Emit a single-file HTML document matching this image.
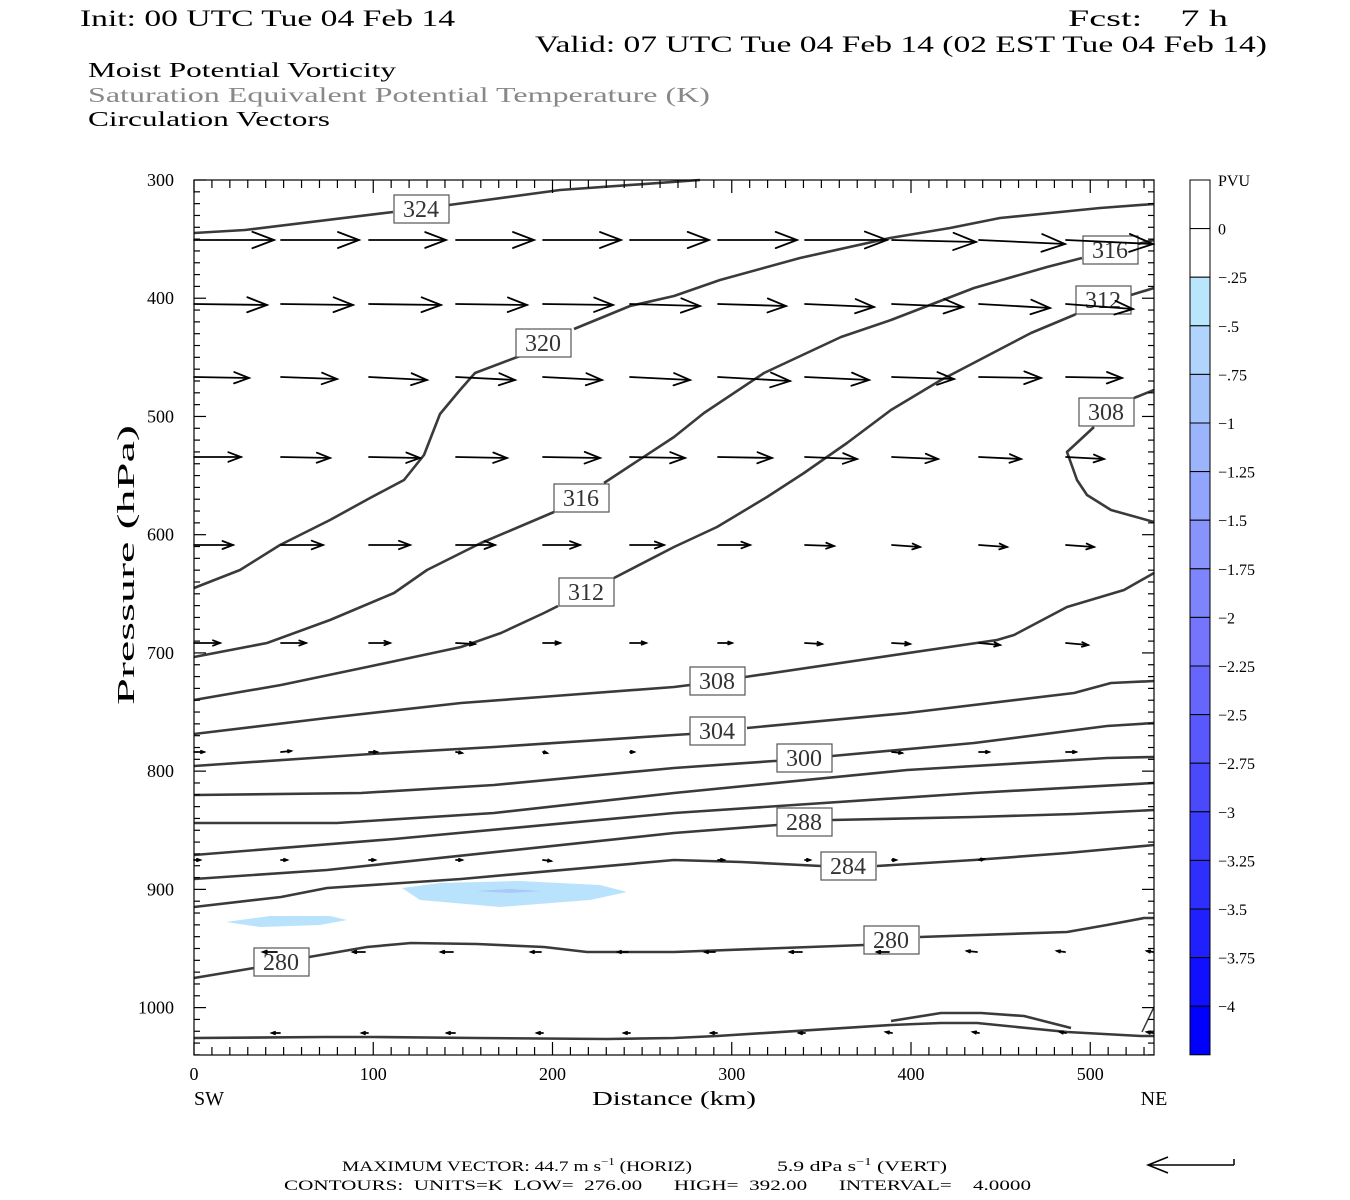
<!DOCTYPE html>
<html><head><meta charset="utf-8"><style>
html,body{margin:0;padding:0;background:#fff;}
svg{display:block;}
text{font-family:"Liberation Serif",serif;}
</style></head><body>
<svg id="s" width="1350" height="1200" viewBox="0 0 1350 1200" xmlns="http://www.w3.org/2000/svg">
<rect width="1350" height="1200" fill="#fff"/>
<g font-family="Liberation Mono, monospace" fill="#000">
<text x="80" y="26" font-size="23" textLength="375" lengthAdjust="spacingAndGlyphs">Init: 00 UTC Tue 04 Feb 14</text>
<text x="1068" y="26" font-size="23" textLength="160" lengthAdjust="spacingAndGlyphs" xml:space="preserve">Fcst:    7 h</text>
<text x="535" y="52" font-size="23" textLength="732" lengthAdjust="spacingAndGlyphs">Valid: 07 UTC Tue 04 Feb 14 (02 EST Tue 04 Feb 14)</text>
<text x="88" y="77" font-size="21" textLength="308" lengthAdjust="spacingAndGlyphs">Moist Potential Vorticity</text>
<text x="88" y="102" font-size="21" fill="#888" textLength="622" lengthAdjust="spacingAndGlyphs">Saturation Equivalent Potential Temperature (K)</text>
<text x="88" y="126" font-size="21" textLength="242" lengthAdjust="spacingAndGlyphs">Circulation Vectors</text>
</g>
<polygon points="402,888 440,883 520,881 600,885 627,892 590,900 500,907 420,900" fill="#b9e3fc"/>
<polygon points="476,891 510,889 541,891 510,893" fill="#aac8f8"/>
<polygon points="226,922 270,916 330,916 347,920 320,925 260,927" fill="#b9e3fc"/>
<g id="cont" fill="none" stroke="#3a3a3a" stroke-width="2.6" stroke-linejoin="round">
<polyline points="194,233 245,230 393,212"/><polyline points="449,205 560,190 700,180"/>
<polyline points="194,588 240,570 280,545 330,520 370,498 404,480 424,455 440,414 460,390 475,373 520,356"/>
<polyline points="574,329 630,306 674,296 720,280 800,258 890,238 950,228 1000,218 1100,208 1154,204"/>
<polyline points="194,657 267,643 330,620 394,593 427,570 481,543 554,512"/>
<polyline points="604,483 674,437 704,413 764,373 841,337 891,320 974,288 1047,267 1082,258"/>
<polyline points="1138,244 1154,240"/>
<polyline points="194,700 281,685 367,667 461,647 501,633 544,613 558,606"/>
<polyline points="614,578 674,547 717,527 767,497 804,473 847,443 891,410 941,380 1031,333 1074,315 1076,314"/>
<polyline points="1131,295 1154,288"/>
<polyline points="1134,398 1154,390"/><polyline points="1094,427 1067,452 1077,480 1087,495 1111,510 1154,522"/>
<polyline points="194,734 327,718 461,703 541,697 674,687 690,685"/><polyline points="745,677 997,640 1014,635 1067,607 1124,590 1154,573"/>
<polyline points="194,766 371,754 494,747 674,735 690,734"/><polyline points="747,728 907,713 1074,693 1111,683 1154,681"/>
<polyline points="194,795 361,793 494,785 674,768 774,761 777,761"/><polyline points="832,756 974,743 1107,726 1154,723"/>
<polyline points="194,823 337,823 494,813 674,793 907,770 1107,758 1154,757"/>
<polyline points="194,855 394,839 674,813 974,793 1154,783"/>
<polyline points="194,879 327,870 674,833 777,825"/><polyline points="832,820 974,817 1074,814 1154,810"/>
<polyline points="194,907 281,897 327,888 461,879 674,860 741,862 821,866"/><polyline points="877,866 974,860 1067,853 1154,845"/>
<polyline points="194,978 254,968"/><polyline points="309,957 367,947 411,943 477,944 544,947 587,952 674,952 864,945"/><polyline points="920,937 1067,932 1107,925 1144,918 1154,918"/>
<polyline points="194,1038 324,1037 371,1037 477,1038 607,1039 674,1038 717,1036 891,1025 941,1023 977,1023 1067,1032 1141,1036 1154,1036"/>
<polyline points="891,1021 941,1013 981,1013 1024,1016 1071,1028"/>
<polyline points="1142,1032 1154,1007" stroke-width="1.5"/>
</g>
<g id="lbl" font-family="Liberation Serif, serif" font-size="24" fill="#333"></g>
<g id="arr" stroke="#000" stroke-width="1.8" fill="none" stroke-linecap="round"></g>
<g id="ticks" stroke="#000" stroke-width="1.2"></g>
<rect x="194" y="180" width="960" height="875" fill="none" stroke="#000" stroke-width="1.2"/>
<g id="cbar"></g>
<g font-family="Liberation Serif, serif" font-size="18" fill="#000" id="axl"></g>
<text x="674" y="1105" font-size="20" text-anchor="middle" font-family="Liberation Serif, serif" textLength="164" lengthAdjust="spacingAndGlyphs">Distance (km)</text>
<text x="209" y="1105" font-size="20" text-anchor="middle">SW</text>
<text x="1154" y="1105" font-size="20" text-anchor="middle">NE</text>
<text transform="translate(134,565) rotate(-90)" font-size="24" text-anchor="middle" textLength="280" lengthAdjust="spacingAndGlyphs">Pressure (hPa)</text>
<g font-family="Liberation Serif, serif" font-size="15" fill="#000">
<text x="342" y="1171" textLength="350" lengthAdjust="spacingAndGlyphs">MAXIMUM VECTOR:  44.7 m s<tspan dy="-6" font-size="10">−1</tspan><tspan dy="6"> (HORIZ)</tspan></text>
<text x="777" y="1171" textLength="170" lengthAdjust="spacingAndGlyphs">5.9 dPa s<tspan dy="-6" font-size="10">−1</tspan><tspan dy="6"> (VERT)</tspan></text>
<text x="284" y="1190" textLength="747" lengthAdjust="spacingAndGlyphs" xml:space="preserve">CONTOURS:  UNITS=K  LOW=  276.00      HIGH=  392.00      INTERVAL=    4.0000</text>
</g>
<g stroke="#000" stroke-width="1.5" fill="none"><polyline points="1234,1165 1148,1165"/><polyline points="1168,1157 1148,1165 1168,1173"/><line x1="1234" y1="1165" x2="1234" y2="1159"/></g>
</svg>
<script>
var NS="http://www.w3.org/2000/svg";
function el(p,t,a,txt){var e=document.createElementNS(NS,t);for(var k in a)e.setAttribute(k,a[k]);if(txt!=null)e.textContent=txt;document.getElementById(p).appendChild(e);return e;}
[[421,209,"324"],[543,343,"320"],[581,498,"316"],[1110,250,"316"],[586,592,"312"],[1103,300,"312"],[1106,412,"308"],[717,681,"308"],[717,731,"304"],[804,758,"300"],[804,822,"288"],[848,866,"284"],[891,940,"280"],[281,962,"280"]].forEach(function(l){
el("lbl","rect",{x:l[0]-27,y:l[1]-14,width:55,height:28,fill:"#fff",stroke:"#555","stroke-width":1.2});
el("lbl","text",{x:l[0],y:l[1]+8,"text-anchor":"middle"},l[2]);});
var cols=[194,281,369,456,543,630,718,805,892,979,1066];
var rows=[
[240,[80,78,77,78,78,79,79,82,84,86,87],[0,0,0,0,0,0,0,0,2,4,4]],
[304,[73,72,72,71,70,70,68,69,71,71,67],[1,1,1,1,1,2,2,3,3,4,5]],
[377,[55,56,58,59,59,60,72,64,62,62,56],[1,2,3,3,3,3,4,3,2,1,1]],
[457,[47,49,51,51,57,55,54,52,46,42,38],[0,1,1,1,1,1,1,2,2,2,2]],
[545,[39,42,41,39,37,34,32,29,28,28,28],[0,0,0,0,0,0,0,1,2,2,2]],
[643,[26,25,21,19,17,16,14,17,18,21,22],[0,0,0,1,0,0,0,1,1,2,2]],
[752,[10,10,8,6,4,4,0,0,10,10,10],[0,-1,0,1,1,0,0,0,1,0,0]],
[860,[6,6,6,6,8,0,6,5,4,5,0],[0,0,0,0,1,0,0,0,0,-1,0]],
[952,[-14,-12,-12,-10,-10,-10,-12,-12,-10,-8,-6],[0,0,0,0,0,0,0,0,-1,-1,-1]],
[1033,[-8,-6,-8,-6,-6,-6,-6,-6,-6,-6,-6],[0,0,0,0,0,0,0,-1,-1,-1,-1]]];
rows.forEach(function(r){cols.forEach(function(c,i){var L=r[1][i];if(!L)return;var x=c;if(L<0)x=c+90+L/2;var y=r[0],x1=x+L,y1=y+r[2][i];
var dx=x1-x,dy=y1-y,len=Math.sqrt(dx*dx+dy*dy),ux=dx/len,uy=dy/len,h=Math.max(3,len*0.27),w=h*0.38;
el("arr","line",{x1:x,y1:y,x2:x1,y2:y1});
el("arr","polyline",{points:(x1-ux*h-uy*w)+","+(y1-uy*h+ux*w)+" "+x1+","+y1+" "+(x1-ux*h+uy*w)+","+(y1-uy*h-ux*w)});});});
function py(p){return 180+(p-300)*1.1823;}
for(var p=300;p<=1040;p+=10){var y=py(p),m=(p%100==0)?12:6;el("ticks","line",{x1:194,y1:y,x2:194+m,y2:y});el("ticks","line",{x1:1154,y1:y,x2:1154-m,y2:y});
if(p%100==0)el("axl","text",{x:174,y:y+6,"text-anchor":"end"},String(p));}
for(var d=0;d<=535;d+=10){var x=194+d*1.7925,m=(d%100==0)?13:8;el("ticks","line",{x1:x,y1:1055,x2:x,y2:1055-m});el("ticks","line",{x1:x,y1:180,x2:x,y2:180+m});
if(d%100==0)el("axl","text",{x:x,y:1080,"text-anchor":"middle"},String(d));}
var cs=["#fff","#fff","#b9e6fc","#b0d4fc","#a6c4fc","#9cb4fc","#92a4fc","#8894fc","#7e84fc","#7474fc","#6666fc","#5858fc","#4a4afc","#3c3cfc","#2e2efd","#2020fd","#1010fe","#0000ff"];
var labs=["0","−.25","−.5","−.75","−1","−1.25","−1.5","−1.75","−2","−2.25","−2.5","−2.75","−3","−3.25","−3.5","−3.75","−4"];
for(var i=0;i<18;i++){var y0=180+i*48.6;el("cbar","rect",{x:1190,y:y0,width:20,height:48.6,fill:cs[i],stroke:"#000","stroke-width":1});}
el("cbar","text",{x:1218,y:186,"font-size":16},"PVU");
labs.forEach(function(t,i){el("cbar","text",{x:1218,y:180+(i+1)*48.6+6,"font-size":16},t);});
</script>
</body></html>
